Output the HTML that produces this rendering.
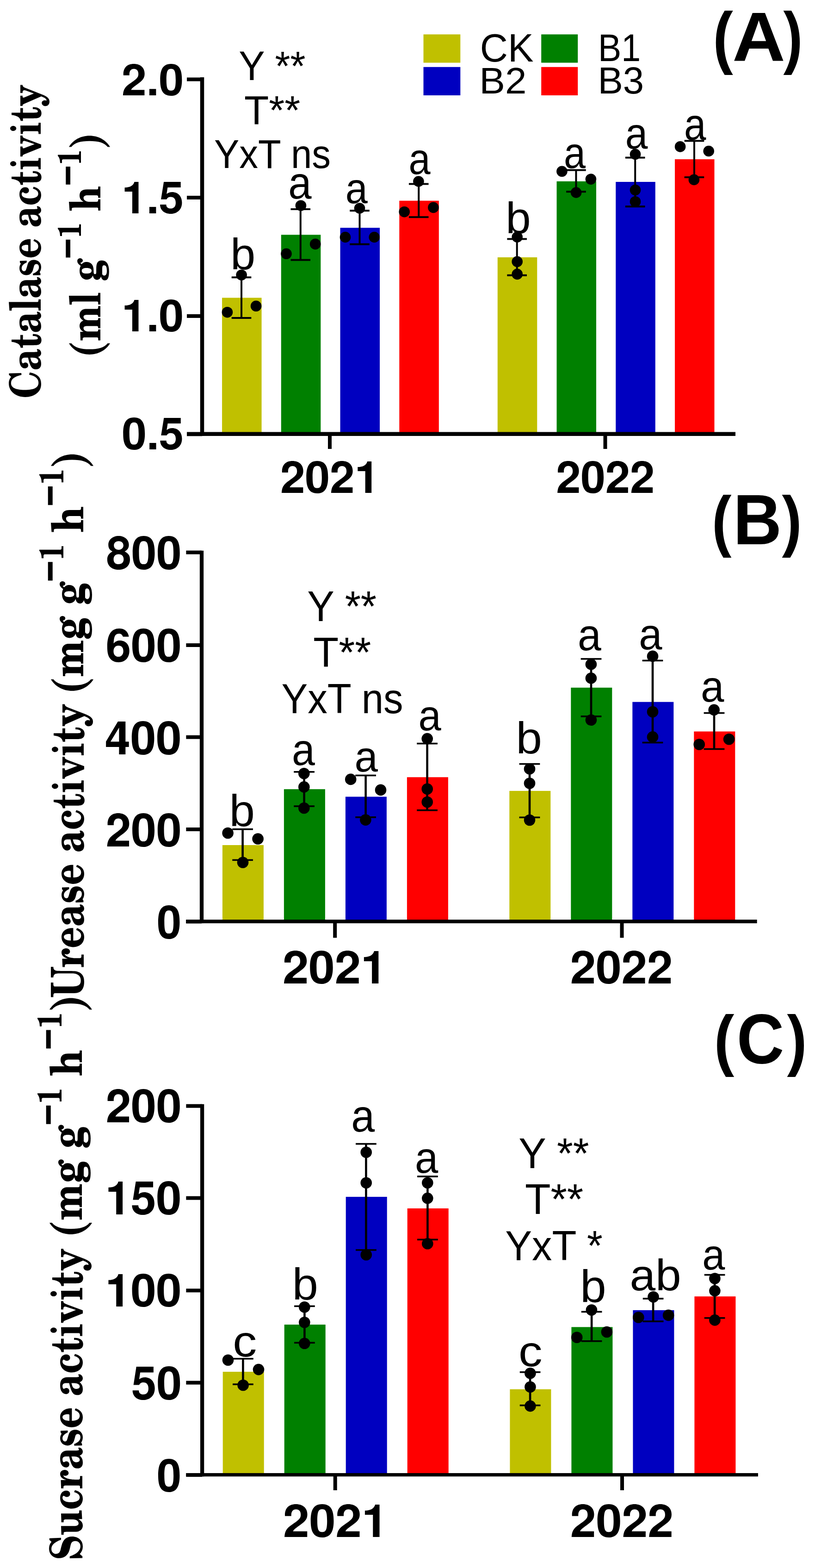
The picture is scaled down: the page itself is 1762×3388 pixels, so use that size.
<!DOCTYPE html>
<html><head><meta charset="utf-8"><title>Soil enzyme activity</title>
<style>html,body{margin:0;padding:0;background:#fff}svg{display:block}</style></head>
<body><svg width="1762" height="3388" viewBox="0 0 1762 3388">
<rect width="1762" height="3388" fill="#fff"/>
<rect x="915.5" y="74.3" width="79.8" height="61.2" fill="#C0C000"/>
<rect x="915.5" y="144.8" width="79.8" height="61.2" fill="#0000C0"/>
<rect x="1170.2" y="74.3" width="79" height="61.2" fill="#008000"/>
<rect x="1170.2" y="144.8" width="79" height="61.2" fill="#FF0000"/>
<rect x="480.05" y="643.4" width="85.5" height="294.3" fill="#C0C000"/>
<rect x="607.8" y="507.3" width="85.5" height="430.4" fill="#008000"/>
<rect x="735.55" y="492.2" width="85.5" height="445.5" fill="#0000C0"/>
<rect x="863.3" y="433.7" width="85.5" height="504" fill="#FF0000"/>
<rect x="1075.75" y="556" width="85.5" height="381.7" fill="#C0C000"/>
<rect x="1203.5" y="391.8" width="85.5" height="545.9" fill="#008000"/>
<rect x="1331.25" y="393" width="85.5" height="544.7" fill="#0000C0"/>
<rect x="1459" y="344.1" width="85.5" height="593.6" fill="#FF0000"/>
<rect x="520" y="599.3" width="4" height="87.7" fill="#000"/>
<rect x="500.7" y="597.3" width="42.6" height="4" fill="#000"/>
<rect x="500.7" y="685" width="42.6" height="4" fill="#000"/>
<rect x="647.75" y="452" width="4" height="109.7" fill="#000"/>
<rect x="628.45" y="450" width="42.6" height="4" fill="#000"/>
<rect x="628.45" y="559.7" width="42.6" height="4" fill="#000"/>
<rect x="775.5" y="455.2" width="4" height="72.5" fill="#000"/>
<rect x="756.2" y="453.2" width="42.6" height="4" fill="#000"/>
<rect x="756.2" y="525.7" width="42.6" height="4" fill="#000"/>
<rect x="903.25" y="397.5" width="4" height="71.6" fill="#000"/>
<rect x="883.95" y="395.5" width="42.6" height="4" fill="#000"/>
<rect x="883.95" y="467.1" width="42.6" height="4" fill="#000"/>
<rect x="1115.7" y="516.4" width="4" height="78.4" fill="#000"/>
<rect x="1096.4" y="514.4" width="42.6" height="4" fill="#000"/>
<rect x="1096.4" y="592.8" width="42.6" height="4" fill="#000"/>
<rect x="1243.45" y="367.5" width="4" height="46.7" fill="#000"/>
<rect x="1224.15" y="365.5" width="42.6" height="4" fill="#000"/>
<rect x="1224.15" y="412.2" width="42.6" height="4" fill="#000"/>
<rect x="1371.2" y="340.6" width="4" height="105.6" fill="#000"/>
<rect x="1351.9" y="338.6" width="42.6" height="4" fill="#000"/>
<rect x="1351.9" y="444.2" width="42.6" height="4" fill="#000"/>
<rect x="1498.95" y="304.4" width="4" height="78.6" fill="#000"/>
<rect x="1479.65" y="302.4" width="42.6" height="4" fill="#000"/>
<rect x="1479.65" y="381" width="42.6" height="4" fill="#000"/>
<circle cx="491.4" cy="674.7" r="11.8"/>
<circle cx="553.6" cy="661.3" r="11.8"/>
<circle cx="522.1" cy="594.2" r="11.8"/>
<circle cx="619" cy="548.3" r="11.8"/>
<circle cx="681.7" cy="527.4" r="11.8"/>
<circle cx="650.4" cy="444.2" r="11.8"/>
<circle cx="746.5" cy="512.5" r="11.8"/>
<circle cx="809.2" cy="512.5" r="11.8"/>
<circle cx="777.5" cy="450" r="11.8"/>
<circle cx="874.2" cy="457.7" r="11.8"/>
<circle cx="936.9" cy="448.4" r="11.8"/>
<circle cx="904.9" cy="392" r="11.8"/>
<circle cx="1118.2" cy="512.1" r="11.8"/>
<circle cx="1118.2" cy="565.3" r="11.8"/>
<circle cx="1118.2" cy="592.4" r="11.8"/>
<circle cx="1214.9" cy="370.3" r="11.8"/>
<circle cx="1277.4" cy="387.1" r="11.8"/>
<circle cx="1245.6" cy="416" r="11.8"/>
<circle cx="1373.5" cy="333.4" r="11.8"/>
<circle cx="1373.5" cy="410.6" r="11.8"/>
<circle cx="1373.5" cy="435.7" r="11.8"/>
<circle cx="1470.6" cy="316.9" r="11.8"/>
<circle cx="1532.2" cy="326.5" r="11.8"/>
<circle cx="1500.4" cy="388.4" r="11.8"/>
<rect x="432.75" y="167" width="8.5" height="774.95" fill="#000"/>
<rect x="404" y="933.45" width="1186" height="8.5" fill="#000"/>
<rect x="404" y="167.5" width="33" height="8" fill="#000"/>
<rect x="404" y="423" width="33" height="8" fill="#000"/>
<rect x="404" y="678.9" width="33" height="8" fill="#000"/>
<rect x="404" y="934.3" width="33" height="8" fill="#000"/>
<rect x="709" y="937.7" width="8" height="32.3" fill="#000"/>
<rect x="1304.5" y="937.7" width="8" height="32.3" fill="#000"/>
<text transform="translate(263.11 205.55) scale(0.9452)" font-family='"TeX Gyre Heros", "Liberation Sans", Arial, sans-serif' font-weight="bold" font-size="100" textLength="141.82" lengthAdjust="spacingAndGlyphs">2.0</text>
<text transform="translate(263.05 460.55) scale(0.9542)" font-family='"TeX Gyre Heros", "Liberation Sans", Arial, sans-serif' font-weight="bold" font-size="100" textLength="140.56" lengthAdjust="spacingAndGlyphs">1.5</text>
<text transform="translate(263.05 715.74) scale(0.9575)" font-family='"TeX Gyre Heros", "Liberation Sans", Arial, sans-serif' font-weight="bold" font-size="100" textLength="140.06" lengthAdjust="spacingAndGlyphs">1.0</text>
<text transform="translate(263.41 970.84) scale(0.9562)" font-family='"TeX Gyre Heros", "Liberation Sans", Arial, sans-serif' font-weight="bold" font-size="100" textLength="139.87" lengthAdjust="spacingAndGlyphs">0.5</text>
<text transform="translate(605.91 1064.64) scale(0.9562)" font-family='"TeX Gyre Heros", "Liberation Sans", Arial, sans-serif' font-weight="bold" font-size="100" textLength="224.20" lengthAdjust="spacingAndGlyphs">2021</text>
<text transform="translate(1202.13 1065.05) scale(0.9521)" font-family='"TeX Gyre Heros", "Liberation Sans", Arial, sans-serif' font-weight="bold" font-size="100" textLength="223.83" lengthAdjust="spacingAndGlyphs">2022</text>
<text transform="translate(1541.36 131.29) scale(1.4766)" font-family='"Liberation Sans", Arial, sans-serif' font-weight="bold" font-size="100" textLength="29.49" lengthAdjust="spacingAndGlyphs">(</text>
<text transform="translate(1583.25 130.6) scale(1.5029)" font-family='"Liberation Sans", Arial, sans-serif' font-weight="bold" font-size="100" textLength="76.16" lengthAdjust="spacingAndGlyphs">A</text>
<text transform="translate(1693.5 131.29) scale(1.4766)" font-family='"Liberation Sans", Arial, sans-serif' font-weight="bold" font-size="100" textLength="28.36" lengthAdjust="spacingAndGlyphs">)</text>
<text transform="translate(516.21 172.5) scale(0.8986)" font-family='"Liberation Sans", Arial, sans-serif' font-weight="normal" font-size="100" textLength="160.34" lengthAdjust="spacingAndGlyphs">Y **</text>
<text transform="translate(528.06 267.72) scale(0.8800)" font-family='"Liberation Sans", Arial, sans-serif' font-weight="normal" font-size="100" textLength="137.64" lengthAdjust="spacingAndGlyphs">T**</text>
<text transform="translate(462.97 362.83) scale(0.8714)" font-family='"Liberation Sans", Arial, sans-serif' font-weight="normal" font-size="100" textLength="289.15" lengthAdjust="spacingAndGlyphs">YxT ns</text>
<text transform="translate(1037.83 132.65) scale(0.8521)" font-family='"Liberation Sans", Arial, sans-serif' font-weight="normal" font-size="100" textLength="135.86" lengthAdjust="spacingAndGlyphs">CK</text>
<text transform="translate(1036.32 202) scale(0.8057)" font-family='"Liberation Sans", Arial, sans-serif' font-weight="normal" font-size="100" textLength="126.75" lengthAdjust="spacingAndGlyphs">B2</text>
<text transform="translate(1292.98 132) scale(0.8362)" font-family='"Liberation Sans", Arial, sans-serif' font-weight="normal" font-size="100" textLength="110.11" lengthAdjust="spacingAndGlyphs">B1</text>
<text transform="translate(1292.48 201.69) scale(0.8099)" font-family='"Liberation Sans", Arial, sans-serif' font-weight="normal" font-size="100" textLength="123.17" lengthAdjust="spacingAndGlyphs">B3</text>
<text transform="translate(498.19 582.1) scale(0.9452)" font-family='"Liberation Sans", Arial, sans-serif' font-weight="normal" font-size="100" textLength="57.02" lengthAdjust="spacingAndGlyphs">b</text>
<text transform="translate(623.28 428.62) scale(0.9764)" font-family='"Liberation Sans", Arial, sans-serif' font-weight="normal" font-size="100" textLength="51.49" lengthAdjust="spacingAndGlyphs">a</text>
<text transform="translate(746.85 439.07) scale(0.9309)" font-family='"Liberation Sans", Arial, sans-serif' font-weight="normal" font-size="100" textLength="51.59" lengthAdjust="spacingAndGlyphs">a</text>
<text transform="translate(883.62 376.35) scale(0.9509)" font-family='"Liberation Sans", Arial, sans-serif' font-weight="normal" font-size="100" textLength="49.50" lengthAdjust="spacingAndGlyphs">a</text>
<text transform="translate(1093.13 503.7) scale(0.9452)" font-family='"Liberation Sans", Arial, sans-serif' font-weight="normal" font-size="100" textLength="57.54" lengthAdjust="spacingAndGlyphs">b</text>
<text transform="translate(1218.92 362.85) scale(0.9491)" font-family='"Liberation Sans", Arial, sans-serif' font-weight="normal" font-size="100" textLength="49.48" lengthAdjust="spacingAndGlyphs">a</text>
<text transform="translate(1351.81 320.95) scale(0.9527)" font-family='"Liberation Sans", Arial, sans-serif' font-weight="normal" font-size="100" textLength="50.97" lengthAdjust="spacingAndGlyphs">a</text>
<text transform="translate(1478.89 301.84) scale(0.9600)" font-family='"Liberation Sans", Arial, sans-serif' font-weight="normal" font-size="100" textLength="49.36" lengthAdjust="spacingAndGlyphs">a</text>
<text transform="translate(87.7 861.11) rotate(-90) scale(0.9365)" font-family='"TeX Gyre Schola", "Liberation Serif", serif' font-weight="bold" font-size="100" textLength="724.70" lengthAdjust="spacingAndGlyphs">Catalase activity</text>
<text transform="translate(217 772.44) rotate(-90) scale(0.9218)" font-family='"TeX Gyre Schola", "Liberation Serif", serif' font-weight="bold" font-size="100" textLength="527.17" lengthAdjust="spacingAndGlyphs"><tspan font-size="113" dy="9.5">(</tspan><tspan dy="-9.5">ml g</tspan><tspan font-size="90" dy="-53" stroke="#000" stroke-width="1.6">−</tspan><tspan font-size="77" dy="7">1</tspan><tspan dy="46"> h</tspan><tspan font-size="90" dy="-53" stroke="#000" stroke-width="1.6">−</tspan><tspan font-size="77" dy="7">1</tspan><tspan font-size="113" dy="55.5">)</tspan></text>
<rect x="480.9" y="1826" width="89" height="165" fill="#C0C000"/>
<rect x="613.9" y="1705.2" width="89" height="285.8" fill="#008000"/>
<rect x="746.9" y="1721.5" width="89" height="269.5" fill="#0000C0"/>
<rect x="879.9" y="1679.3" width="89" height="311.7" fill="#FF0000"/>
<rect x="1101.3" y="1708.9" width="89" height="282.1" fill="#C0C000"/>
<rect x="1234.3" y="1485.8" width="89" height="505.2" fill="#008000"/>
<rect x="1367.3" y="1516.7" width="89" height="474.3" fill="#0000C0"/>
<rect x="1500.3" y="1580.5" width="89" height="410.5" fill="#FF0000"/>
<rect x="522.3" y="1791.7" width="4.6" height="66.6" fill="#000"/>
<rect x="502.25" y="1789.9" width="44.7" height="3.6" fill="#000"/>
<rect x="502.25" y="1856.5" width="44.7" height="3.6" fill="#000"/>
<rect x="655.3" y="1667.8" width="4.6" height="74.2" fill="#000"/>
<rect x="635.25" y="1666" width="44.7" height="3.6" fill="#000"/>
<rect x="635.25" y="1740.2" width="44.7" height="3.6" fill="#000"/>
<rect x="788.3" y="1675.5" width="4.6" height="90.3" fill="#000"/>
<rect x="768.25" y="1673.7" width="44.7" height="3.6" fill="#000"/>
<rect x="768.25" y="1764" width="44.7" height="3.6" fill="#000"/>
<rect x="921.3" y="1606.6" width="4.6" height="144.1" fill="#000"/>
<rect x="901.25" y="1604.8" width="44.7" height="3.6" fill="#000"/>
<rect x="901.25" y="1748.9" width="44.7" height="3.6" fill="#000"/>
<rect x="1142.7" y="1650.7" width="4.6" height="115.5" fill="#000"/>
<rect x="1122.65" y="1648.9" width="44.7" height="3.6" fill="#000"/>
<rect x="1122.65" y="1764.4" width="44.7" height="3.6" fill="#000"/>
<rect x="1275.7" y="1423.7" width="4.6" height="124.2" fill="#000"/>
<rect x="1255.65" y="1421.9" width="44.7" height="3.6" fill="#000"/>
<rect x="1255.65" y="1546.1" width="44.7" height="3.6" fill="#000"/>
<rect x="1408.7" y="1427.3" width="4.6" height="177.2" fill="#000"/>
<rect x="1388.65" y="1425.5" width="44.7" height="3.6" fill="#000"/>
<rect x="1388.65" y="1602.7" width="44.7" height="3.6" fill="#000"/>
<rect x="1541.7" y="1540.6" width="4.6" height="77.9" fill="#000"/>
<rect x="1521.65" y="1538.8" width="44.7" height="3.6" fill="#000"/>
<rect x="1521.65" y="1616.7" width="44.7" height="3.6" fill="#000"/>
<circle cx="492.6" cy="1800" r="12.3"/>
<circle cx="557.6" cy="1812.5" r="12.3"/>
<circle cx="525" cy="1863.5" r="12.3"/>
<circle cx="657.3" cy="1671.3" r="12.3"/>
<circle cx="657.3" cy="1700.4" r="12.3"/>
<circle cx="657.3" cy="1746" r="12.3"/>
<circle cx="758.2" cy="1683.9" r="12.3"/>
<circle cx="823" cy="1706.9" r="12.3"/>
<circle cx="790.4" cy="1771.6" r="12.3"/>
<circle cx="923.7" cy="1596.1" r="12.3"/>
<circle cx="923.7" cy="1704.8" r="12.3"/>
<circle cx="923.7" cy="1733" r="12.3"/>
<circle cx="1145" cy="1661.4" r="12.3"/>
<circle cx="1145" cy="1692.5" r="12.3"/>
<circle cx="1145" cy="1772" r="12.3"/>
<circle cx="1277.9" cy="1435.4" r="12.3"/>
<circle cx="1277.9" cy="1465.4" r="12.3"/>
<circle cx="1277.9" cy="1555.7" r="12.3"/>
<circle cx="1411" cy="1417.9" r="12.3"/>
<circle cx="1411" cy="1538" r="12.3"/>
<circle cx="1411" cy="1592.4" r="12.3"/>
<circle cx="1511.7" cy="1608.5" r="12.3"/>
<circle cx="1576.1" cy="1597.2" r="12.3"/>
<circle cx="1543.7" cy="1533.9" r="12.3"/>
<rect x="431.85" y="1189.8" width="8.3" height="805.1" fill="#000"/>
<rect x="402.2" y="1987.1" width="1234.4" height="7.8" fill="#000"/>
<rect x="402.4" y="1189.6" width="33.6" height="8" fill="#000"/>
<rect x="402.4" y="1390" width="33.6" height="8" fill="#000"/>
<rect x="402.4" y="1588.7" width="33.6" height="8" fill="#000"/>
<rect x="402.4" y="1788" width="33.6" height="8" fill="#000"/>
<rect x="402.4" y="1987.4" width="33.6" height="8" fill="#000"/>
<rect x="720.2" y="1991" width="8" height="35.3" fill="#000"/>
<rect x="1340.5" y="1991" width="8" height="35.3" fill="#000"/>
<text transform="translate(229.65 1230.11) scale(0.9918)" font-family='"TeX Gyre Heros", "Liberation Sans", Arial, sans-serif' font-weight="bold" font-size="100" textLength="164.23" lengthAdjust="spacingAndGlyphs">800</text>
<text transform="translate(228.65 1430.3) scale(0.9959)" font-family='"TeX Gyre Heros", "Liberation Sans", Arial, sans-serif' font-weight="bold" font-size="100" textLength="164.57" lengthAdjust="spacingAndGlyphs">600</text>
<text transform="translate(226.71 1629.5) scale(0.9959)" font-family='"TeX Gyre Heros", "Liberation Sans", Arial, sans-serif' font-weight="bold" font-size="100" textLength="166.56" lengthAdjust="spacingAndGlyphs">400</text>
<text transform="translate(228.65 1829.4) scale(0.9973)" font-family='"TeX Gyre Heros", "Liberation Sans", Arial, sans-serif' font-weight="bold" font-size="100" textLength="164.34" lengthAdjust="spacingAndGlyphs">200</text>
<text transform="translate(339.35 2028.2) scale(0.9959)" font-family='"TeX Gyre Heros", "Liberation Sans", Arial, sans-serif' font-weight="bold" font-size="100" textLength="53.10" lengthAdjust="spacingAndGlyphs">0</text>
<text transform="translate(610.96 2125.22) scale(0.9822)" font-family='"TeX Gyre Heros", "Liberation Sans", Arial, sans-serif' font-weight="bold" font-size="100" textLength="229.47" lengthAdjust="spacingAndGlyphs">2021</text>
<text transform="translate(1232.81 2125.22) scale(0.9822)" font-family='"TeX Gyre Heros", "Liberation Sans", Arial, sans-serif' font-weight="bold" font-size="100" textLength="225.60" lengthAdjust="spacingAndGlyphs">2022</text>
<text transform="translate(1539.03 1175.48) scale(1.4723)" font-family='"Liberation Sans", Arial, sans-serif' font-weight="bold" font-size="100" textLength="28.85" lengthAdjust="spacingAndGlyphs">(</text>
<text transform="translate(1585.26 1176.1) scale(1.5449)" font-family='"Liberation Sans", Arial, sans-serif' font-weight="bold" font-size="100" textLength="67.74" lengthAdjust="spacingAndGlyphs">B</text>
<text transform="translate(1690.6 1175.48) scale(1.4723)" font-family='"Liberation Sans", Arial, sans-serif' font-weight="bold" font-size="100" textLength="29.25" lengthAdjust="spacingAndGlyphs">)</text>
<text transform="translate(664.34 1342.2) scale(0.9203)" font-family='"Liberation Sans", Arial, sans-serif' font-weight="normal" font-size="100" textLength="162.65" lengthAdjust="spacingAndGlyphs">Y **</text>
<text transform="translate(677.3 1441.19) scale(0.9057)" font-family='"Liberation Sans", Arial, sans-serif' font-weight="normal" font-size="100" textLength="137.82" lengthAdjust="spacingAndGlyphs">T**</text>
<text transform="translate(608.4 1541.19) scale(0.9114)" font-family='"Liberation Sans", Arial, sans-serif' font-weight="normal" font-size="100" textLength="288.75" lengthAdjust="spacingAndGlyphs">YxT ns</text>
<text transform="translate(495.75 1784.8) scale(0.9562)" font-family='"Liberation Sans", Arial, sans-serif' font-weight="normal" font-size="100" textLength="57.66" lengthAdjust="spacingAndGlyphs">b</text>
<text transform="translate(631.02 1652.83) scale(0.9709)" font-family='"Liberation Sans", Arial, sans-serif' font-weight="normal" font-size="100" textLength="51.34" lengthAdjust="spacingAndGlyphs">a</text>
<text transform="translate(766.48 1667.27) scale(0.9309)" font-family='"Liberation Sans", Arial, sans-serif' font-weight="normal" font-size="100" textLength="54.12" lengthAdjust="spacingAndGlyphs">a</text>
<text transform="translate(904.46 1578.47) scale(0.9309)" font-family='"Liberation Sans", Arial, sans-serif' font-weight="normal" font-size="100" textLength="52.86" lengthAdjust="spacingAndGlyphs">a</text>
<text transform="translate(1115.62 1627.5) scale(0.9575)" font-family='"Liberation Sans", Arial, sans-serif' font-weight="normal" font-size="100" textLength="58.87" lengthAdjust="spacingAndGlyphs">b</text>
<text transform="translate(1249.05 1405.33) scale(0.9709)" font-family='"Liberation Sans", Arial, sans-serif' font-weight="normal" font-size="100" textLength="52.33" lengthAdjust="spacingAndGlyphs">a</text>
<text transform="translate(1381.28 1403.35) scale(0.9509)" font-family='"Liberation Sans", Arial, sans-serif' font-weight="normal" font-size="100" textLength="52.87" lengthAdjust="spacingAndGlyphs">a</text>
<text transform="translate(1514.98 1516.26) scale(0.9400)" font-family='"Liberation Sans", Arial, sans-serif' font-weight="normal" font-size="100" textLength="53.60" lengthAdjust="spacingAndGlyphs">a</text>
<text transform="translate(180.5 2155.71) rotate(-90) scale(0.9819)" font-family='"TeX Gyre Schola", "Liberation Serif", serif' font-weight="bold" font-size="100" textLength="647.03" lengthAdjust="spacingAndGlyphs">Urease activity</text>
<text transform="translate(180 1499.46) rotate(-90) scale(0.9455)" font-family='"TeX Gyre Schola", "Liberation Serif", serif' font-weight="bold" font-size="100" textLength="554.92" lengthAdjust="spacingAndGlyphs"><tspan font-size="113" dy="9.5">(</tspan><tspan dy="-9.5">mg g</tspan><tspan font-size="90" dy="-53" stroke="#000" stroke-width="1.6">−</tspan><tspan font-size="77" dy="7">1</tspan><tspan dy="46"> h</tspan><tspan font-size="90" dy="-53" stroke="#000" stroke-width="1.6">−</tspan><tspan font-size="77" dy="7">1</tspan><tspan font-size="113" dy="55.5">)</tspan></text>
<rect x="481.7" y="2964" width="89" height="222.6" fill="#C0C000"/>
<rect x="614.7" y="2862.1" width="89" height="324.5" fill="#008000"/>
<rect x="747.7" y="2586" width="89" height="600.6" fill="#0000C0"/>
<rect x="880.7" y="2611" width="89" height="575.6" fill="#FF0000"/>
<rect x="1102.4" y="3001.8" width="89" height="184.8" fill="#C0C000"/>
<rect x="1235.4" y="2867.4" width="89" height="319.2" fill="#008000"/>
<rect x="1368.4" y="2830.9" width="89" height="355.7" fill="#0000C0"/>
<rect x="1501.4" y="2801.2" width="89" height="385.4" fill="#FF0000"/>
<rect x="523.1" y="2935.8" width="4.6" height="55.3" fill="#000"/>
<rect x="503.05" y="2934" width="44.7" height="3.6" fill="#000"/>
<rect x="503.05" y="2989.3" width="44.7" height="3.6" fill="#000"/>
<rect x="656.1" y="2822.3" width="4.6" height="79" fill="#000"/>
<rect x="636.05" y="2820.5" width="44.7" height="3.6" fill="#000"/>
<rect x="636.05" y="2899.5" width="44.7" height="3.6" fill="#000"/>
<rect x="789.1" y="2471.6" width="4.6" height="229.3" fill="#000"/>
<rect x="769.05" y="2469.8" width="44.7" height="3.6" fill="#000"/>
<rect x="769.05" y="2699.1" width="44.7" height="3.6" fill="#000"/>
<rect x="922.1" y="2542" width="4.6" height="136.4" fill="#000"/>
<rect x="902.05" y="2540.2" width="44.7" height="3.6" fill="#000"/>
<rect x="902.05" y="2676.6" width="44.7" height="3.6" fill="#000"/>
<rect x="1143.8" y="2964.8" width="4.6" height="71.8" fill="#000"/>
<rect x="1123.75" y="2963" width="44.7" height="3.6" fill="#000"/>
<rect x="1123.75" y="3034.8" width="44.7" height="3.6" fill="#000"/>
<rect x="1276.8" y="2834.4" width="4.6" height="63.4" fill="#000"/>
<rect x="1256.75" y="2832.6" width="44.7" height="3.6" fill="#000"/>
<rect x="1256.75" y="2896" width="44.7" height="3.6" fill="#000"/>
<rect x="1409.8" y="2806" width="4.6" height="49.1" fill="#000"/>
<rect x="1389.75" y="2804.2" width="44.7" height="3.6" fill="#000"/>
<rect x="1389.75" y="2853.3" width="44.7" height="3.6" fill="#000"/>
<rect x="1542.8" y="2754.6" width="4.6" height="93.2" fill="#000"/>
<rect x="1522.75" y="2752.8" width="44.7" height="3.6" fill="#000"/>
<rect x="1522.75" y="2846" width="44.7" height="3.6" fill="#000"/>
<circle cx="493" cy="2938.7" r="12.3"/>
<circle cx="559" cy="2959.1" r="12.3"/>
<circle cx="525.6" cy="2993" r="12.3"/>
<circle cx="658.3" cy="2824.3" r="12.3"/>
<circle cx="658.3" cy="2857.2" r="12.3"/>
<circle cx="658.3" cy="2902.8" r="12.3"/>
<circle cx="791.7" cy="2489.8" r="12.3"/>
<circle cx="791.7" cy="2555.7" r="12.3"/>
<circle cx="791.7" cy="2711.3" r="12.3"/>
<circle cx="924.3" cy="2555.7" r="12.3"/>
<circle cx="924.3" cy="2589.1" r="12.3"/>
<circle cx="924.3" cy="2687.3" r="12.3"/>
<circle cx="1146.4" cy="2967.3" r="12.3"/>
<circle cx="1146.4" cy="2996.8" r="12.3"/>
<circle cx="1146.4" cy="3038.1" r="12.3"/>
<circle cx="1247.2" cy="2889.7" r="12.3"/>
<circle cx="1311.9" cy="2878" r="12.3"/>
<circle cx="1278.9" cy="2830.5" r="12.3"/>
<circle cx="1380.3" cy="2846.5" r="12.3"/>
<circle cx="1445.1" cy="2841.9" r="12.3"/>
<circle cx="1412.5" cy="2802.2" r="12.3"/>
<circle cx="1545.4" cy="2762.5" r="12.3"/>
<circle cx="1545.4" cy="2789.1" r="12.3"/>
<circle cx="1545.4" cy="2852.4" r="12.3"/>
<rect x="432.95" y="2385.8" width="8.3" height="804.45" fill="#000"/>
<rect x="402.4" y="3182.95" width="1236.5" height="7.3" fill="#000"/>
<rect x="402.4" y="2385.7" width="34.7" height="8" fill="#000"/>
<rect x="402.4" y="2584.6" width="34.7" height="8" fill="#000"/>
<rect x="402.4" y="2784.4" width="34.7" height="8" fill="#000"/>
<rect x="402.4" y="2983.6" width="34.7" height="8" fill="#000"/>
<rect x="402.4" y="3183" width="34.7" height="8" fill="#000"/>
<rect x="720.7" y="3186.6" width="8" height="33.4" fill="#000"/>
<rect x="1341" y="3186.6" width="8" height="33.4" fill="#000"/>
<text transform="translate(228.65 2425) scale(0.9959)" font-family='"TeX Gyre Heros", "Liberation Sans", Arial, sans-serif' font-weight="bold" font-size="100" textLength="164.57" lengthAdjust="spacingAndGlyphs">200</text>
<text transform="translate(227.68 2624.4) scale(0.9959)" font-family='"TeX Gyre Heros", "Liberation Sans", Arial, sans-serif' font-weight="bold" font-size="100" textLength="165.57" lengthAdjust="spacingAndGlyphs">150</text>
<text transform="translate(227.68 2823.32) scale(0.9836)" font-family='"TeX Gyre Heros", "Liberation Sans", Arial, sans-serif' font-weight="bold" font-size="100" textLength="167.64" lengthAdjust="spacingAndGlyphs">100</text>
<text transform="translate(283.96 3024) scale(0.9973)" font-family='"TeX Gyre Heros", "Liberation Sans", Arial, sans-serif' font-weight="bold" font-size="100" textLength="109.26" lengthAdjust="spacingAndGlyphs">50</text>
<text transform="translate(339.35 3222.92) scale(0.9849)" font-family='"TeX Gyre Heros", "Liberation Sans", Arial, sans-serif' font-weight="bold" font-size="100" textLength="53.69" lengthAdjust="spacingAndGlyphs">0</text>
<text transform="translate(611.94 3320.72) scale(0.9822)" font-family='"TeX Gyre Heros", "Liberation Sans", Arial, sans-serif' font-weight="bold" font-size="100" textLength="230.92" lengthAdjust="spacingAndGlyphs">2021</text>
<text transform="translate(1232.79 3320.72) scale(0.9822)" font-family='"TeX Gyre Heros", "Liberation Sans", Arial, sans-serif' font-weight="bold" font-size="100" textLength="227.39" lengthAdjust="spacingAndGlyphs">2022</text>
<text transform="translate(1543.86 2297.43) scale(1.4702)" font-family='"Liberation Sans", Arial, sans-serif' font-weight="bold" font-size="100" textLength="29.62" lengthAdjust="spacingAndGlyphs">(</text>
<text transform="translate(1593.04 2298.07) scale(1.5296)" font-family='"Liberation Sans", Arial, sans-serif' font-weight="bold" font-size="100" textLength="66.75" lengthAdjust="spacingAndGlyphs">C</text>
<text transform="translate(1701.4 2297.43) scale(1.4702)" font-family='"Liberation Sans", Arial, sans-serif' font-weight="bold" font-size="100" textLength="29.21" lengthAdjust="spacingAndGlyphs">)</text>
<text transform="translate(1121.32 2523.8) scale(0.9275)" font-family='"Liberation Sans", Arial, sans-serif' font-weight="normal" font-size="100" textLength="164.02" lengthAdjust="spacingAndGlyphs">Y **</text>
<text transform="translate(1134.88 2622.68) scale(0.9200)" font-family='"Liberation Sans", Arial, sans-serif' font-weight="normal" font-size="100" textLength="137.36" lengthAdjust="spacingAndGlyphs">T**</text>
<text transform="translate(1092.27 2722.59) scale(0.9143)" font-family='"Liberation Sans", Arial, sans-serif' font-weight="normal" font-size="100" textLength="230.12" lengthAdjust="spacingAndGlyphs">YxT *</text>
<text transform="translate(503.34 2931.05) scale(0.9545)" font-family='"Liberation Sans", Arial, sans-serif' font-weight="normal" font-size="100" textLength="54.45" lengthAdjust="spacingAndGlyphs">c</text>
<text transform="translate(631.76 2808) scale(0.9603)" font-family='"Liberation Sans", Arial, sans-serif' font-weight="normal" font-size="100" textLength="58.31" lengthAdjust="spacingAndGlyphs">b</text>
<text transform="translate(759.15 2445.02) scale(0.9764)" font-family='"Liberation Sans", Arial, sans-serif' font-weight="normal" font-size="100" textLength="52.04" lengthAdjust="spacingAndGlyphs">a</text>
<text transform="translate(897.08 2533.85) scale(0.9509)" font-family='"Liberation Sans", Arial, sans-serif' font-weight="normal" font-size="100" textLength="52.87" lengthAdjust="spacingAndGlyphs">a</text>
<text transform="translate(1120.88 2951.88) scale(0.9182)" font-family='"Liberation Sans", Arial, sans-serif' font-weight="normal" font-size="100" textLength="56.10" lengthAdjust="spacingAndGlyphs">c</text>
<text transform="translate(1254.32 2813.1) scale(0.9740)" font-family='"Liberation Sans", Arial, sans-serif' font-weight="normal" font-size="100" textLength="57.87" lengthAdjust="spacingAndGlyphs">b</text>
<text transform="translate(1361.5 2787.75) scale(0.9527)" font-family='"Liberation Sans", Arial, sans-serif' font-weight="normal" font-size="100" textLength="116.76" lengthAdjust="spacingAndGlyphs">ab</text>
<text transform="translate(1518.27 2742.77) scale(0.9309)" font-family='"Liberation Sans", Arial, sans-serif' font-weight="normal" font-size="100" textLength="52.74" lengthAdjust="spacingAndGlyphs">a</text>
<text transform="translate(177.5 3371.02) rotate(-90) scale(0.9797)" font-family='"TeX Gyre Schola", "Liberation Serif", serif' font-weight="bold" font-size="100" textLength="687.97" lengthAdjust="spacingAndGlyphs">Sucrase activity</text>
<text transform="translate(176.5 2673.66) rotate(-90) scale(0.9475)" font-family='"TeX Gyre Schola", "Liberation Serif", serif' font-weight="bold" font-size="100" textLength="553.11" lengthAdjust="spacingAndGlyphs"><tspan font-size="113" dy="9.5">(</tspan><tspan dy="-9.5">mg g</tspan><tspan font-size="90" dy="-53" stroke="#000" stroke-width="1.6">−</tspan><tspan font-size="77" dy="7">1</tspan><tspan dy="46"> h</tspan><tspan font-size="90" dy="-53" stroke="#000" stroke-width="1.6">−</tspan><tspan font-size="77" dy="7">1</tspan><tspan font-size="113" dy="55.5">)</tspan></text>
</svg></body></html>
